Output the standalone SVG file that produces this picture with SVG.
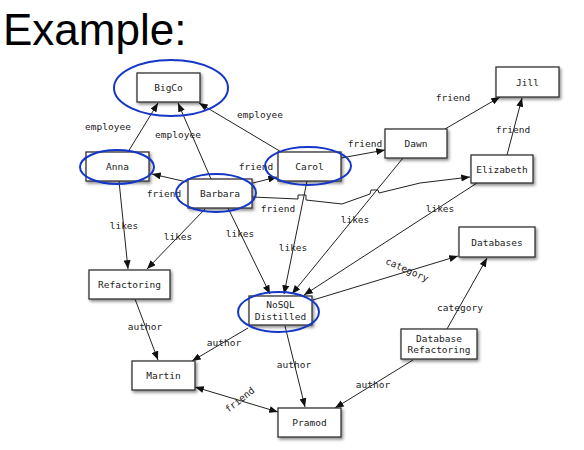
<svg xmlns="http://www.w3.org/2000/svg" width="584" height="450" viewBox="0 0 584 450">
<style>
.box{fill:#fff;stroke:#333;stroke-width:1.3;filter:url(#sh)}
.nt{font-family:"DejaVu Sans Mono","Liberation Mono",monospace;font-size:9.5px;fill:#222;text-anchor:middle}
.lb{font-family:"DejaVu Sans Mono","Liberation Mono",monospace;font-size:9.5px;fill:#222;text-anchor:middle}
.e{fill:none;stroke:#222;stroke-width:1;marker-end:url(#ah)}
.hl{fill:none;stroke:#1537c9;stroke-width:2}
</style>
<defs>
<filter id="sh" x="-20%" y="-20%" width="150%" height="160%">
<feDropShadow dx="1.5" dy="2" stdDeviation="1.5" flood-color="#000" flood-opacity="0.45"/>
</filter>
<marker id="ah" viewBox="0 0 10 8" refX="10" refY="4" markerWidth="9" markerHeight="7" markerUnits="userSpaceOnUse" orient="auto-start-reverse">
<path d="M0,0 L10,4 L0,8 z" fill="#111"/>
</marker>
</defs>
<rect width="584" height="450" fill="#fff"/>
<text x="3" y="45" font-family="Liberation Sans, Arial, sans-serif" font-size="44" fill="#000">Example:</text>

<g id="connectors">
<path class="e" d="M128,152 L158,103"/>
<path class="e" d="M211,179 L178,103"/>
<path class="e" d="M283,153 L199,103"/>
<path class="e" d="M187,182 L152,174"/>
<path class="e" d="M253,183 L277,177"/>
<path class="e" d="M341,158 L385,150"/>
<path class="e" d="M445,129 L500,97"/>
<path class="e" d="M507,155 L522,98"/>
<path class="e" d="M252,197 L298,199 L298,195 L306,195 L306,200 L342,204 L370,194 L371,190 L378,190 L379,193 L420,183 L470,177"/>
<path class="e" d="M119,181 L128,269"/>
<path class="e" d="M205,209 L147,269"/>
<path class="e" d="M228,208 L270,294"/>
<path class="e" d="M307,181 L284,294"/>
<path class="e" d="M403,158 L292,294"/>
<path class="e" d="M477,183 L304,295"/>
<path class="e" d="M313,300 L458,256"/>
<path class="e" d="M447,329 L487,258"/>
<path class="e" d="M135,299 L158,360"/>
<path class="e" d="M248,328 L192,361"/>
<path class="e" d="M285,326 L305,407"/>
<path class="e" d="M413,360 L335,408"/>
<path class="e" d="M195,387 L278,412" marker-start="url(#ah)"/>
<text class="lb" x="108" y="130">employee</text>
<text class="lb" x="178" y="138">employee</text>
<text class="lb" x="260" y="118">employee</text>
<text class="lb" x="164" y="197">friend</text>
<text class="lb" x="256" y="170">friend</text>
<text class="lb" x="365" y="147">friend</text>
<text class="lb" x="453" y="101">friend</text>
<text class="lb" x="513" y="133">friend</text>
<text class="lb" x="278" y="212">friend</text>
<text class="lb" x="124" y="229">likes</text>
<text class="lb" x="178" y="240">likes</text>
<text class="lb" x="240" y="237">likes</text>
<text class="lb" x="293" y="251">likes</text>
<text class="lb" x="355" y="223">likes</text>
<text class="lb" x="440" y="212">likes</text>
<text class="lb" x="407" y="273" transform="rotate(24 407 270)">category</text>
<text class="lb" x="460" y="311">category</text>
<text class="lb" x="145" y="330">author</text>
<text class="lb" x="224" y="346">author</text>
<text class="lb" x="294" y="368">author</text>
<text class="lb" x="373" y="388">author</text>
<text class="lb" x="240" y="403" transform="rotate(-38 240 400)">friend</text>
</g>

<g id="BigCo"><rect class="box" x="137" y="73" width="63" height="29"/><text class="nt" x="168.5" y="91">BigCo</text><ellipse class="hl" cx="171" cy="88" rx="57" ry="28"/></g>
<g id="Anna"><rect class="box" x="86" y="152" width="63" height="29"/><text class="nt" x="117.5" y="170">Anna</text><ellipse class="hl" cx="117" cy="167" rx="37" ry="17"/></g>
<g id="Barbara"><rect class="box" x="188" y="179" width="64" height="29"/><text class="nt" x="220" y="197">Barbara</text><ellipse class="hl" cx="216" cy="193" rx="40" ry="19"/></g>
<g id="Carol"><rect class="box" x="278" y="152" width="63" height="29"/><text class="nt" x="309.5" y="170">Carol</text><ellipse class="hl" cx="308" cy="166" rx="43" ry="19"/></g>
<g id="Dawn"><rect class="box" x="385" y="129" width="62" height="29"/><text class="nt" x="416" y="147">Dawn</text></g>
<g id="Jill"><rect class="box" x="496" y="67" width="63" height="30"/><text class="nt" x="527.5" y="85.5">Jill</text></g>
<g id="Elizabeth"><rect class="box" x="471" y="155" width="62" height="28"/><text class="nt" x="502" y="172.5">Elizabeth</text></g>
<g id="Databases"><rect class="box" x="459" y="227" width="76" height="30"/><text class="nt" x="497" y="245.5">Databases</text></g>
<g id="Refactoring"><rect class="box" x="89" y="270" width="81" height="29"/><text class="nt" x="129.5" y="288">Refactoring</text></g>
<g id="NoSQLDistilled"><rect class="box" x="249" y="296" width="63" height="29"/><text class="nt" x="280.5" y="308">NoSQL</text><text class="nt" x="280.5" y="319.5">Distilled</text><ellipse class="hl" cx="278.5" cy="312" rx="40.5" ry="20"/></g>
<g id="Martin"><rect class="box" x="132" y="361" width="63" height="29"/><text class="nt" x="163.5" y="379">Martin</text></g>
<g id="Pramod"><rect class="box" x="278" y="408" width="63" height="29"/><text class="nt" x="309.5" y="426">Pramod</text></g>
<g id="DatabaseRefactoring"><rect class="box" x="401" y="329" width="76" height="30"/><text class="nt" x="439" y="341.5">Database</text><text class="nt" x="439" y="353">Refactoring</text></g>
</svg>
